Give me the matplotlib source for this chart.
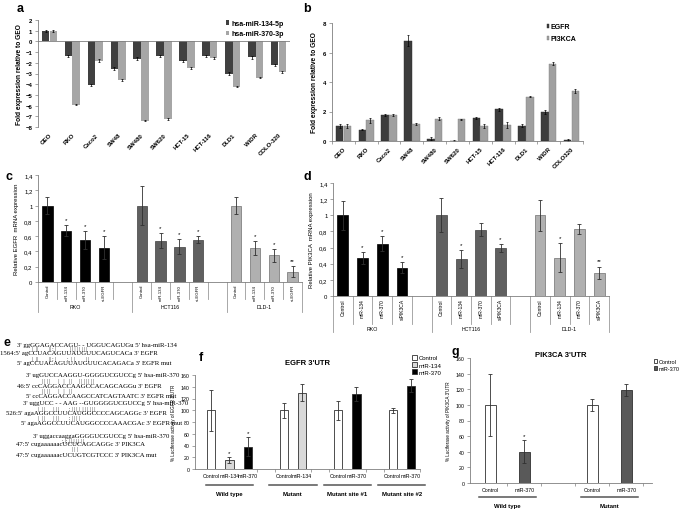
import numpy as np
import matplotlib
matplotlib.use('Agg')
import matplotlib.pyplot as plt
from matplotlib.transforms import blended_transform_factory
from matplotlib.patches import Patch

plt.rcParams['font.family'] = ['Liberation Sans', 'DejaVu Sans']

W, H = 685, 510

# ---- panel a: miRNA expression ----
cells_a = ['GEO', 'RKO', 'Caco2', 'SW48', 'SW480', 'SW620', 'HCT-15', 'HCT-116', 'DLD1', 'WiDR', 'COLO-320']
mir134 = [0.95, -1.4, -4.05, -2.55, -1.6, -1.35, -1.85, -1.4, -3.0, -1.5, -2.2]
mir134_err = [0.08, 0.1, 0.08, 0.15, 0.1, 0.08, 0.08, 0.1, 0.15, 0.1, 0.1]
mir370 = [0.95, -5.9, -1.8, -3.6, -7.4, -7.25, -2.5, -1.55, -4.25, -3.4, -2.85]
mir370_err = [0.07, 0.05, 0.15, 0.08, 0.05, 0.05, 0.07, 0.08, 0.05, 0.05, 0.08]

# ---- panel b: EGFR / PI3KCA expression ----
cells_b = ['GEO', 'RKO', 'Caco2', 'SW48', 'SW480', 'SW620', 'HCT-15', 'HCT-116', 'DLD1', 'WiDR', 'COLO320']
egfr = [1.0, 0.75, 1.75, 6.8, 0.15, 0.03, 1.55, 2.15, 1.05, 1.95, 0.05]
egfr_err = [0.15, 0.03, 0.05, 0.38, 0.1, 0.01, 0.08, 0.1, 0.08, 0.15, 0.08]
pik3ca = [1.0, 1.4, 1.78, 1.15, 1.5, 1.47, 1.0, 1.1, 3.0, 5.25, 3.4]
pik3ca_err = [0.15, 0.15, 0.08, 0.05, 0.1, 0.05, 0.15, 0.2, 0.05, 0.08, 0.12]

# ---- panels c, d: knockdown qPCR ----
lines_cd = ['RKO', 'HCT116', 'DLD-1']
treat_c = ['Control', 'miR-134', 'miR-370', 'si-EGFR']
treat_d = ['Control', 'miR-134', 'miR-370', 'siPIK3CA']
egfr_kd = [1.0, 0.67, 0.55, 0.45, 1.0, 0.54, 0.46, 0.555, 1.0, 0.44, 0.35, 0.135]
egfr_kd_err = [0.11, 0.07, 0.12, 0.15, 0.26, 0.1, 0.1, 0.05, 0.11, 0.09, 0.085, 0.07]
egfr_kd_sig = ['', '*', '*', '*', '', '*', '*', '*', '', '*', '*', '**']
pik_kd = [1.0, 0.47, 0.65, 0.35, 1.0, 0.46, 0.82, 0.59, 1.0, 0.475, 0.83, 0.285]
pik_kd_err = [0.18, 0.07, 0.09, 0.07, 0.21, 0.11, 0.08, 0.05, 0.19, 0.18, 0.06, 0.08]
pik_kd_sig = ['', '*', '*', '*', '', '*', '', '*', '', '*', '', '**']

# ---- panel f: EGFR 3'UTR luciferase ----
f_labels = ['Control', 'miR-134', 'miR-370', 'Control', 'miR-134', 'Control', 'miR-370', 'Control', 'miR-370']
f_vals = [100, 15, 38, 100, 130, 100, 128, 100, 142]
f_err = [35, 5, 16, 13, 14, 16, 12, 4, 11]
f_sig = ['', '*', '*', '', '', '', '', '', '']
f_groups = ['Wild type', 'Mutant', 'Mutant site #1', 'Mutant site #2']

# ---- panel g: PIK3CA 3'UTR luciferase ----
g_labels = ['Control', 'miR-370', 'Control', 'miR-370']
g_vals = [100, 40, 100, 119]
g_err = [40, 15, 8, 8]
g_sig = ['', '*', '', '']
g_groups = ['Wild type', 'Mutant']

# ---- panel e: seed pairing ----
e_lines = [
    "3' ggGGAGACCAGU- - UGGUCAGUGu 5' hsa-miR-134",
    "|  ||        || : |          | | | | | | | |",
    "1564:5' agCCUACAGUUAUGUUCAGUCACa 3' EGFR",
    "|  ||        || : |        :  | |        | |",
    "5' agCCUACAGUUAUGUUCACAGACa 3' EGFR mut",
    "3' ugGUCCAAGGU-GGGGUCGUCCg 5' hsa-miR-370",
    "| | | |      |   |   | |     | | | | | | |",
    "46:5' ccCAGGACCAAGCCACAGCAGGu 3' EGFR",
    "| | | |      |   |   | |",
    "5' ccCAGGACCAAGCCATCAGTAATC 3' EGFR mut",
    "3' uggUCC - - AAG --GUGGGGUCGUCCg 5' hsa-miR-370",
    "|  | |      | | |       : | | | |  | | | | | |",
    "526:5' agaAGGCCUUCAUGGCCCCAGCAGGc 3' EGFR",
    "|  | |      | | |       : | | | |",
    "5' agaAGGCCUUCAUGGCCCCAAACGAc 3' EGFR mut",
    "3' uggaccaaggaGGGGUCGUCCg 5' hsa-miR-370",
    ": |: | | | | | | |",
    "47:5' cugaaaaaacUCUCAGCAGGc 3' PIK3CA",
    "| | |",
    "47:5' cugaaaaaacUCUGTCGTCCC 3' PIK3CA mut",
]
e_x = [17, 32, 0, 32, 17, 26, 42, 17, 42, 26, 23, 38, 6, 38, 21, 33, 62, 16, 72, 16]
e_y = [345, 350, 354, 359, 364, 376, 381, 387, 392, 397, 404, 409, 414, 419, 423, 437, 441, 445, 450, 455]

SMALL = 4.3


def px_axes(fig, left, top, right, bottom):
    return fig.add_axes([left / W, 1 - bottom / H, (right - left) / W, (bottom - top) / H])


def fig_text(fig, x, y, s, **kw):
    fig.text(x / W, 1 - y / H, s, **kw)


def clean(ax, bottom=True):
    for s in ['top', 'right']:
        ax.spines[s].set_visible(False)
    ax.spines['bottom'].set_visible(bottom)
    for s in ['left', 'bottom']:
        ax.spines[s].set_color('#7f7f7f')
        ax.spines[s].set_linewidth(0.6)
    ax.tick_params(axis='y', length=2, width=0.5, color='#7f7f7f', labelsize=SMALL, pad=2)
    ax.tick_params(axis='x', length=0, labelsize=SMALL)


fig = plt.figure(figsize=(6.85, 5.1), dpi=100)
ek = dict(lw=0.5, capthick=0.5, ecolor='black')

# panel a
ax = px_axes(fig, 38, 21, 290, 128)
x = np.arange(len(cells_a))
ax.bar(x - 0.17, mir134, 0.33, yerr=mir134_err, capsize=1, color='#404040', error_kw=ek, label='hsa-miR-134-5p')
ax.bar(x + 0.17, mir370, 0.33, yerr=mir370_err, capsize=1, color='#a6a6a6', error_kw=ek, label='hsa-miR-370-3p')
ax.axhline(0, color='#7f7f7f', lw=0.6)
ax.set_xlim(-0.5, len(cells_a) - 0.5)
ax.set_ylim(-8, 2)
ax.set_yticks(range(-8, 3))
ax.set_xticks(x)
ax.set_xticklabels(cells_a, rotation=45, ha='right', rotation_mode='anchor', fontweight='bold')
clean(ax, bottom=False)
for t in ax.get_yticklabels():
    t.set_fontweight('bold')
ax.set_ylabel('Fold expression relative to GEO', fontsize=4.8, fontweight='bold', labelpad=2)
ax.legend(loc='upper right', bbox_to_anchor=(1.0, 1.06), frameon=False, prop=dict(size=5, weight='bold'),
          handlelength=0.5, handleheight=0.6, handletextpad=0.3, labelspacing=0.5)
fig_text(fig, 17, 9, 'a', fontsize=9, fontweight='bold', va='center')

# panel b
ax = px_axes(fig, 332, 24, 583, 142)
x = np.arange(len(cells_b))
ax.bar(x - 0.17, egfr, 0.33, yerr=egfr_err, capsize=1, color='#3c3c3c', edgecolor='#2a2a2a', lw=0.3, error_kw=ek, label='EGFR')
ax.bar(x + 0.17, pik3ca, 0.33, yerr=pik3ca_err, capsize=1, color='#a0a0a0', edgecolor='#808080', lw=0.3, error_kw=ek, label='PI3KCA')
ax.set_xlim(-0.5, len(cells_b) - 0.5)
ax.set_ylim(0, 8)
ax.set_yticks([0, 2, 4, 6, 8])
ax.set_xticks(x)
ax.set_xticklabels(cells_b, rotation=45, ha='right', rotation_mode='anchor', fontweight='bold')
clean(ax)
ax.set_xticks(np.arange(-0.5, len(cells_b)), minor=True)
ax.tick_params(axis='x', which='minor', length=2, width=0.5, color='#7f7f7f')
for t in ax.get_yticklabels():
    t.set_fontweight('bold')
ax.set_ylabel('Fold expression relative to GEO', fontsize=4.8, fontweight='bold', labelpad=4)
ax.legend(loc='upper left', bbox_to_anchor=(0.83, 1.05), frameon=False, prop=dict(size=5, weight='bold'),
          handlelength=0.4, handleheight=0.6, handletextpad=0.2, labelspacing=0.7)
fig_text(fig, 303, 9, 'b', fontsize=9, fontweight='bold', va='center')


def knockdown(ax, vals, errs, sig, treats, ylabel, slot_len, group_len, label_pos, tick_size):
    colors = ['#000000', '#606060', '#b0b0b0']
    edges = ['#000000', '#404040', '#707070']
    pos, labels, cols, eds = [], [], [], []
    for g in range(len(lines_cd)):
        for k, t in enumerate(treats):
            pos.append(g * 5 + k)
            labels.append(t)
            cols.append(colors[g])
            eds.append(edges[g])
    ax.bar(pos, vals, 0.55, yerr=errs, capsize=1.2, color=cols, edgecolor=eds, lw=0.5,
           error_kw=dict(lw=0.6, capthick=0.6, ecolor='#303030'))
    for p, v, e, s in zip(pos, vals, errs, sig):
        if s:
            ax.text(p, v + e + 0.04, s, ha='center', va='bottom', fontsize=4.5)
    n = 5 * len(lines_cd) - 1
    ax.set_xlim(-0.5, n - 0.5)
    ax.set_ylim(0, 1.4)
    ticks = np.arange(0, 1.41, 0.2)
    ax.set_yticks(ticks)
    ax.set_yticklabels([('%g' % round(t, 1)).replace('.', ',') for t in ticks])
    ax.set_xticks(pos)
    ax.set_xticklabels(labels, rotation=90, va='top', ha='center')
    clean(ax)
    ax.tick_params(axis='x', pad=1.5, labelsize=tick_size)
    ax.set_ylabel(ylabel, fontsize=4.3, labelpad=4)
    tr = blended_transform_factory(ax.transData, ax.transAxes)
    for b in np.arange(-0.5, n):
        L = group_len if (b + 0.5) % 5 == 0 or b == n - 0.5 else slot_len
        ax.plot([b, b], [0, -L], transform=tr, clip_on=False, color='#9a9a9a', lw=0.6)
    for g, name in enumerate(lines_cd):
        ax.text(g * 5 + 1.5, -label_pos, name, transform=tr, ha='center', va='center', fontsize=3.8)


ax = px_axes(fig, 38, 176, 302, 283)
knockdown(ax, egfr_kd, egfr_kd_err, egfr_kd_sig, treat_c, 'Relative EGFR  mRNA expression', 0.16, 0.28, 0.23, 3.1)
fig_text(fig, 5, 177, 'c', fontsize=9, fontweight='bold', va='center')

ax = px_axes(fig, 333, 184, 609, 297)
knockdown(ax, pik_kd, pik_kd_err, pik_kd_sig, treat_d, 'Relative PIK3CA  mRNA expression', 0.25, 0.32, 0.29, 3.6)
fig_text(fig, 303, 177, 'd', fontsize=9, fontweight='bold', va='center')

# panel e
fig_text(fig, 3, 343, 'e', fontsize=9, fontweight='bold', va='center')
for i, (s, xx, yy) in enumerate(zip(e_lines, e_x, e_y)):
    size = 4.0 if i % 5 in (1, 3) else 4.9
    fig_text(fig, xx, yy, s, fontsize=size, family='Liberation Serif', va='center', ha='left')


def luciferase(ax, xs, vals, errs, sig, labels, colors, groups, centers, title, ylabel, halfspan,
               line_y, grp_y, width, title_pad):
    ax.bar(xs, vals, width, yerr=errs, capsize=1.5, color=colors, edgecolor='#303030', lw=0.6,
           error_kw=dict(lw=0.6, capthick=0.6, ecolor='#303030'))
    for p, v, e, s in zip(xs, vals, errs, sig):
        if s:
            ax.text(p, v + e + 3, s, ha='center', va='bottom', fontsize=4.5)
    ax.set_ylim(0, 160)
    ax.set_yticks(range(0, 161, 20))
    ax.set_xticks(xs)
    ax.set_xticklabels(labels)
    clean(ax)
    ax.tick_params(axis='x', labelsize=3.8, pad=3)
    ax.tick_params(axis='y', labelsize=3.8)
    ax.set_ylabel(ylabel, fontsize=3.3, labelpad=3)
    ax.set_title(title, fontsize=5.5, fontweight='bold', pad=title_pad)
    tr = blended_transform_factory(ax.transData, ax.transAxes)
    for c, name in zip(centers, groups):
        ax.plot([c - halfspan, c + halfspan], [-line_y, -line_y], transform=tr, clip_on=False, color='#555555', lw=1.1)
        ax.text(c, -grp_y, name, transform=tr, ha='center', va='center', fontsize=4.3, fontweight='bold')


# panel f
ax = px_axes(fig, 195, 376, 420, 470)
kind_color = {'Control': 'white', 'miR-134': '#d9d9d9', 'miR-370': 'black'}
fx = [0, 1, 2, 4, 5, 7, 8, 10, 11]
luciferase(ax, fx, f_vals, f_err, f_sig, f_labels, [kind_color[k] for k in f_labels], f_groups,
           [1, 4.5, 7.5, 10.5], "EGFR 3'UTR", "% Luciferase activity of EGFR 3'UTR", 1.3, 0.17, 0.26, 0.45, 8)
ax.set_xlim(-0.9, 11.5)
ax.set_xticks([2.5, 3.5, 5.5, 6.5, 8.5, 9.5, 11.5], minor=True)
ax.tick_params(axis='x', which='minor', length=2, width=0.5, color='#7f7f7f')
ax.legend(handles=[Patch(facecolor=kind_color[k], edgecolor='#303030', lw=0.6, label=k) for k in ['Control', 'miR-134', 'miR-370']],
          loc='upper left', bbox_to_anchor=(0.94, 1.27), frameon=False, fontsize=4.3,
          handlelength=0.8, handleheight=0.8, handletextpad=0.4, labelspacing=0.3)
fig_text(fig, 199, 358, 'f', fontsize=9, fontweight='bold', va='center')

# panel g
ax = px_axes(fig, 470, 359, 652, 484)
gx = [0, 1, 3, 4]
luciferase(ax, gx, g_vals, g_err, g_sig, g_labels, ['white', '#595959', 'white', '#595959'], g_groups,
           [0.5, 3.5], "PIK3CA 3'UTR", "% Luciferase activity of PIK3CA 3'UTR", 0.85, 0.11, 0.18, 0.33, -3)
ax.set_xlim(-0.6, 4.75)
ax.set_xticks([0.5, 1.5, 2.5, 3.5, 4.5], minor=True)
ax.tick_params(axis='x', which='minor', length=2, width=0.5, color='#7f7f7f')
ax.legend(handles=[Patch(facecolor=c, edgecolor='#303030', lw=0.6, label=k) for k, c in [('Control', 'white'), ('miR-370', '#595959')]],
          loc='upper left', bbox_to_anchor=(0.99, 1.02), frameon=False, fontsize=4.0,
          handlelength=0.7, handleheight=0.8, handletextpad=0.3, labelspacing=0.3, borderaxespad=0.2)
fig_text(fig, 451, 352, 'g', fontsize=9, fontweight='bold', va='center')

fig.savefig('out.png', dpi=100)
